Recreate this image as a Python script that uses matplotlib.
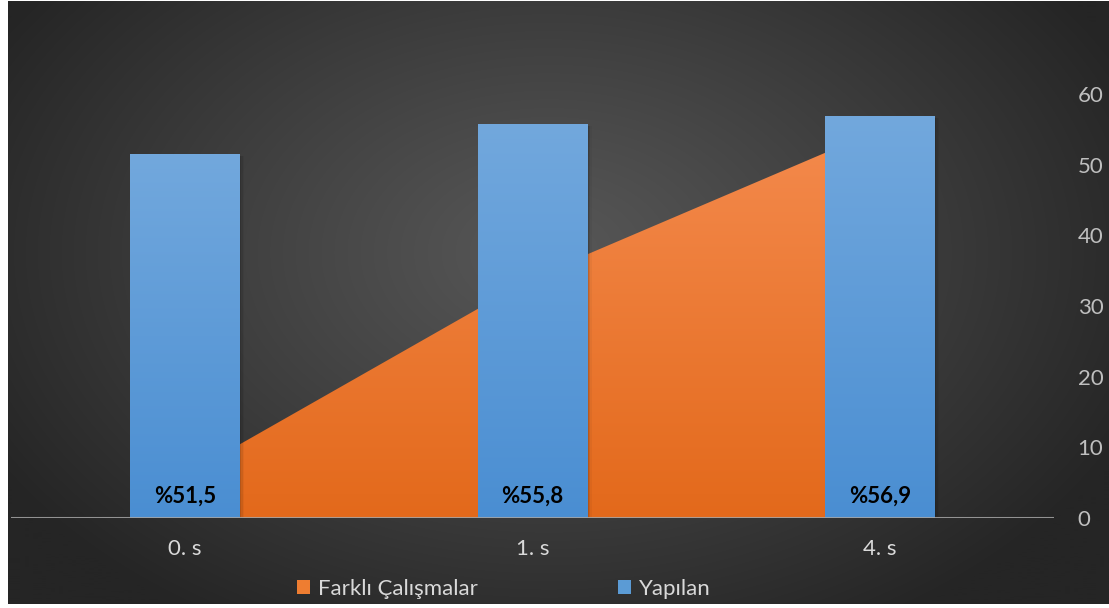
import numpy as np
import matplotlib
matplotlib.use("Agg")
import matplotlib.pyplot as plt
from matplotlib.patches import Patch, Polygon
from matplotlib.colors import LinearSegmentedColormap

plt.rcParams['font.family'] = ['Lato', 'DejaVu Sans']

categories = ["0. s", "1. s", "4. s"]
yapilan = [51.5, 55.8, 56.9]          # bars
farkli = [6.0, 34.0, 55.0]            # area behind the bars
bar_labels = ["%51,5", "%55,8", "%56,9"]
yticks = [0, 10, 20, 30, 40, 50, 60]

W, H = 1109, 608
fig = plt.figure(figsize=(W / 100, H / 100), dpi=100)
fig.patch.set_facecolor("white")

# dark panel with radial gradient
bg = fig.add_axes([8 / W, 4 / H, 1 - 8 / W, 1 - 5 / H], zorder=-10)
yy, xx = np.mgrid[0:600, 0:1100]
d = np.sqrt(((xx - 540) / 640.0) ** 2 + ((yy - 250) / 430.0) ** 2)
d = np.clip(d, 0, 1)
val = (0x57 - (0x57 - 0x25) * d ** 1.1) / 255.0
img = np.dstack([val, val, val])
bg.imshow(img, aspect="auto", extent=[0, 1, 0, 1], origin="upper")
bg.axis("off")

ax = fig.add_axes([11 / W, (H - 518) / H, (1054 - 11) / W, 70 * 7.067 / H])
ax.set_facecolor("none")
x = np.arange(len(categories))

# orange area with vertical gradient
orange_cmap = LinearSegmentedColormap.from_list("o", ["#e3691b", "#f48a4d"])
poly_pts = [(x[0], 0)] + list(zip(x, farkli)) + [(x[-1], 0)]
area = Polygon(poly_pts, closed=True, facecolor="none", edgecolor="none")
ax.add_patch(area)
grad = np.linspace(0, 1, 256).reshape(-1, 1)
im = ax.imshow(grad, cmap=orange_cmap, origin="lower", aspect="auto",
               extent=[x[0], x[-1], 0, max(farkli)], zorder=1)
im.set_clip_path(area)

# blue bars with vertical gradient and soft shadow
blue_cmap = LinearSegmentedColormap.from_list("b", ["#4a8ed2", "#72a8dd"])
bars = ax.bar(x, yapilan, width=0.316, color="none", zorder=3)
for b in bars:
    x0, w, h = b.get_x(), b.get_width(), b.get_height()
    for k, a in enumerate([0.10, 0.07, 0.04]):
        ax.add_patch(plt.Rectangle((x0 + w, 0), 0.004 * (k + 1), h - 0.3,
                                   facecolor="black", alpha=a, zorder=2.5, lw=0))
    bi = ax.imshow(grad, cmap=blue_cmap, origin="lower", aspect="auto",
                   extent=[x0, x0 + w, 0, h], zorder=3)
    bi.set_clip_path(b)

for xi, lab in zip(x, bar_labels):
    ax.text(xi, 3.1, lab, ha="center", va="center", fontsize=16,
            fontweight="bold", color="black", zorder=5)

ax.axhline(0, color="#a6a6a6", lw=2.2, alpha=0.85, zorder=4)

ax.set_xlim(-0.5, 2.5)
ax.set_ylim(0, 70)
ax.set_xticks(x)
ax.set_xticklabels(categories, color="#d9d9d9", fontsize=16)
ax.yaxis.tick_right()
ax.set_yticks(yticks)
ax.set_yticklabels([str(t) for t in yticks], color="#bfbfbf", fontsize=16,
                   ha="left")
ax.tick_params(axis="y", length=0, pad=17)
ax.tick_params(axis="x", length=0, pad=15)
for s in ax.spines.values():
    s.set_visible(False)

handles = [Patch(facecolor="#ee7d31", edgecolor="none"),
           Patch(facecolor="#5b9bd5", edgecolor="none")]
leg = fig.legend(handles, ["Farklı Çalışmalar", "Yapılan"], loc="center",
                 bbox_to_anchor=(504 / W, 1 - 589 / H), ncol=2, frameon=False,
                 fontsize=16, handlelength=0.6, handleheight=0.6,
                 handletextpad=0.35, columnspacing=6.3, labelcolor="#d9d9d9")

fig.savefig("out.png", dpi=100, facecolor=fig.get_facecolor())
